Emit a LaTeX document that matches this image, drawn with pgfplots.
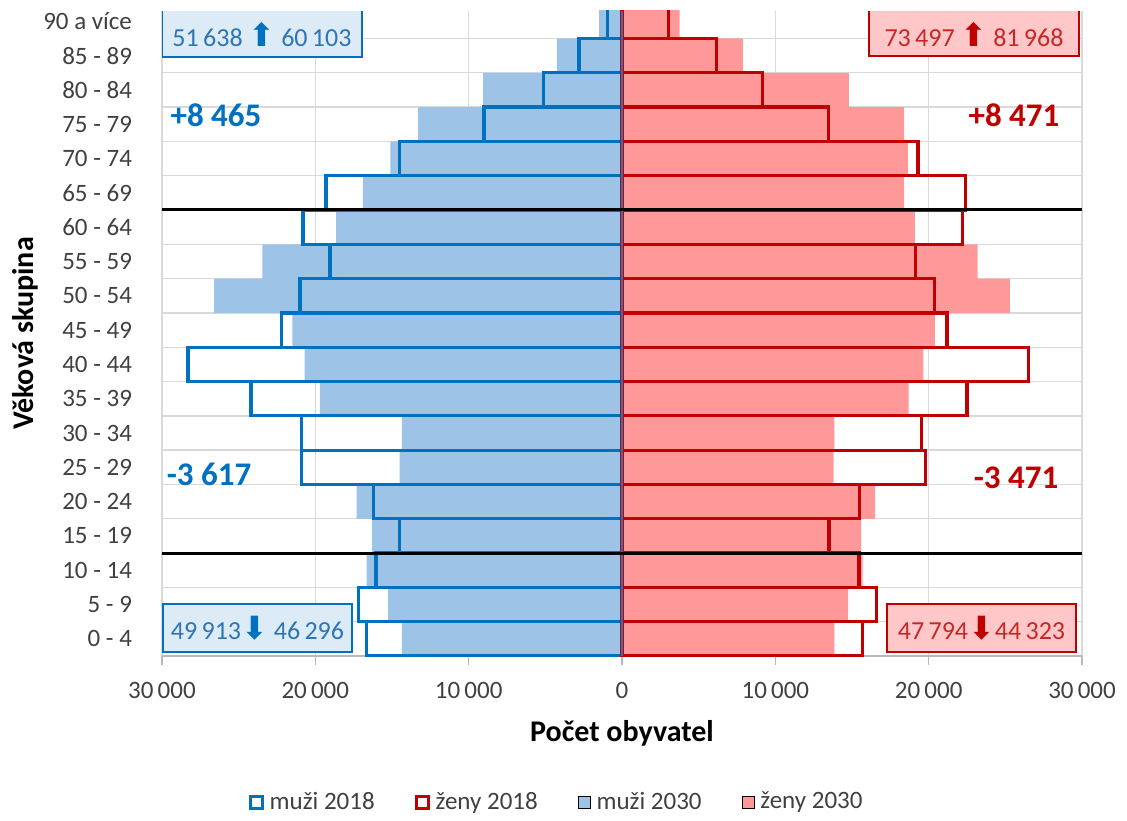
\documentclass[border=0pt]{standalone}
\usepackage{fontspec}
\setmainfont{Carlito}
\newfontfamily\symfont{DejaVu Sans}
\usepackage{pgfplots}
\usepackage{pgfplotstable}
\pgfplotsset{compat=1.18}

\definecolor{mout}{HTML}{0070C0}
\definecolor{mfill}{HTML}{9DC3E6}
\definecolor{fout}{HTML}{C00000}
\definecolor{ffill}{HTML}{FF9999}
\definecolor{mbox}{HTML}{DDEBF7}
\definecolor{fbox}{HTML}{FFC7C7}
\definecolor{mtext}{HTML}{2E75B6}
\definecolor{ftext}{HTML}{C62828}
\definecolor{midline}{HTML}{2E75B6}
\definecolor{gridc}{HTML}{D9D9D9}
\definecolor{labc}{HTML}{404040}

% age groups 0-4 ... 90+, men negative
\pgfplotstableread{
y   m18     m30     f18    f30
0   -16650  -14350  15700  13850
1   -17200  -15250  16600  14750
2   -16050  -16650  15450  15700
3   -14500  -16300  13500  15600
4   -16200  -17300  15500  16500
5   -20900  -14500  19800  13800
6   -20900  -14350  19550  13850
7   -24200  -19700  22500  18700
8   -28300  -20700  26500  19650
9   -22200  -21500  21200  20400
10  -21000  -26600  20400  25300
11  -19050  -23450  19150  23200
12  -20800  -18650  22200  19100
13  -19300  -16900  22400  18400
14  -14500  -15100  19300  18650
15  -9000   -13300  13450  18400
16  -5100   -9050   9150   14800
17  -2800   -4250   6150   7900
18  -950    -1500   3050   3750
}\pyramid

\newcommand\up[1]{{\symfont\color{#1}\fontsize{16}{16}\selectfont ⬆}}
\newcommand\down[1]{{\symfont\color{#1}\fontsize{16}{16}\selectfont ⬇}}

\begin{document}
\begin{tikzpicture}
\begin{axis}[
  scale only axis,
  width=460pt, height=322.5pt,
  xmin=-30000, xmax=30000,
  ymin=-0.5, ymax=18.3,
  scaled x ticks=false,
  axis x line*=bottom, axis y line*=left,
  x axis line style={draw=gray!55, line width=0.8pt},
  y axis line style={draw=none},
  xtick={-30000,-20000,...,30000},
  xticklabels={30\,000,20\,000,10\,000,0,10\,000,20\,000,30\,000},
  ytick={0,...,18},
  yticklabels={0 - 4,5 - 9,10 - 14,15 - 19,20 - 24,25 - 29,30 - 34,35 - 39,40 - 44,45 - 49,50 - 54,55 - 59,60 - 64,65 - 69,70 - 74,75 - 79,80 - 84,85 - 89,90 a více},
  minor ytick={-0.5,0.5,...,17.5},
  xmajorgrids, yminorgrids,
  major grid style={gridc, line width=0.7pt},
  minor grid style={gridc, line width=0.7pt},
  ytick style={draw=none},
  minor tick length=0pt,
  xtick style={draw=gray!55, line width=0.8pt},
  tick align=outside, major tick length=4.5pt,
  ticklabel style={font=\fontsize{12.5}{14}\selectfont, text=labc},
  yticklabel style={xshift=-7pt},
  xticklabel style={yshift=-5pt},
  xlabel={Počet obyvatel},
  ylabel={Věková skupina},
  label style={font=\fontsize{15}{17}\selectfont\bfseries},
  xlabel style={at={(axis description cs:0.5,0)}, anchor=center, yshift=-38.5pt},
  ylabel style={at={(axis description cs:0,0.5)}, anchor=center, yshift=68.5pt},
  legend columns=4,
  legend style={at={(axis description cs:0.43,0)}, anchor=center, yshift=-73pt,
    draw=none, font=\fontsize{12.5}{14}\selectfont, text=labc,
    /tikz/every even column/.append style={column sep=18pt},
    /tikz/every odd column/.append style={column sep=1pt}},
  legend image code/.code={\draw[#1] (0pt,-3pt) rectangle (6pt,3pt);},
]
\addlegendimage{draw=mout, line width=1.5pt, fill=white}
\addlegendentry{muži 2018}
\addlegendimage{draw=fout, line width=1.5pt, fill=white}
\addlegendentry{ženy 2018}
\addlegendimage{draw=none, fill=mfill}
\addlegendentry{muži 2030}
\addlegendimage{draw=none, fill=ffill}
\addlegendentry{ženy 2030}

% 2030 filled bars
\addplot[xbar, bar width=1, bar shift=0pt, fill=mfill, draw=none, forget plot]
  table[x=m30, y=y] {\pyramid};
\addplot[xbar, bar width=1, bar shift=0pt, fill=ffill, draw=none, forget plot]
  table[x=f30, y=y] {\pyramid};
% 2018 outlines
\addplot[xbar, bar width=1, bar shift=0pt, fill=none, draw=mout, line width=1.6pt, forget plot]
  table[x=m18, y=y] {\pyramid};
\addplot[xbar, bar width=1, bar shift=0pt, fill=none, draw=fout, line width=1.6pt, forget plot]
  table[x=f18, y=y] {\pyramid};

\draw[midline, line width=1.3pt] (axis cs:0,-0.5) -- (axis cs:0,18.3);
\draw[black, line width=1.5pt] (axis cs:-30000,2.5) -- (axis cs:30000,2.5);
\draw[black, line width=1.5pt] (axis cs:-30000,12.5) -- (axis cs:30000,12.5);

% summary boxes
\fill[mbox] (axis cs:-30000,16.96) rectangle (axis cs:-16957,18.3);
\draw[mout, line width=0.9pt] (axis cs:-30000,18.3) -- (axis cs:-30000,16.96) -- (axis cs:-16957,16.96) -- (axis cs:-16957,18.3);
\fill[fbox] (axis cs:16109,16.99) rectangle (axis cs:29804,18.3);
\draw[fout, line width=0.9pt] (axis cs:16109,18.3) -- (axis cs:16109,16.99) -- (axis cs:29804,16.99) -- (axis cs:29804,18.3);
\draw[mout, line width=0.9pt, fill=mbox] (axis cs:-29935,-0.383) rectangle (axis cs:-17609,1.016);
\draw[fout, line width=0.9pt, fill=fbox] (axis cs:17283,-0.383) rectangle (axis cs:29609,1.016);

\node[text=mtext, font=\fontsize{13}{14}\selectfont] at (axis cs:-23478,17.6)
  {51\,638 \up{mout} 60\,103};
\node[text=ftext, font=\fontsize{13}{14}\selectfont] at (axis cs:22957,17.6)
  {73\,497 \up{fout} 81\,968};
\node[text=mtext, font=\fontsize{13}{14}\selectfont] at (axis cs:-23772,0.316)
  {49\,913\down{mout} 46\,296};
\node[text=ftext, font=\fontsize{13}{14}\selectfont] at (axis cs:23446,0.316)
  {47\,794\down{fout}44\,323};

\node[text=mout, font=\fontsize{16.5}{18}\selectfont\bfseries] at (axis cs:-26478,15.27) {+8 465};
\node[text=fout, font=\fontsize{16.5}{18}\selectfont\bfseries] at (axis cs:25565,15.27) {+8 471};
\node[text=mout, font=\fontsize{16.5}{18}\selectfont\bfseries] at (axis cs:-26935,4.78) {-3 617};
\node[text=fout, font=\fontsize{16.5}{18}\selectfont\bfseries] at (axis cs:25696,4.69) {-3 471};
\end{axis}
\path ([shift={(-81pt,-80pt)}]current axis.south west) rectangle ([shift={(22.5pt,5.5pt)}]current axis.north east);
\end{tikzpicture}
\end{document}
